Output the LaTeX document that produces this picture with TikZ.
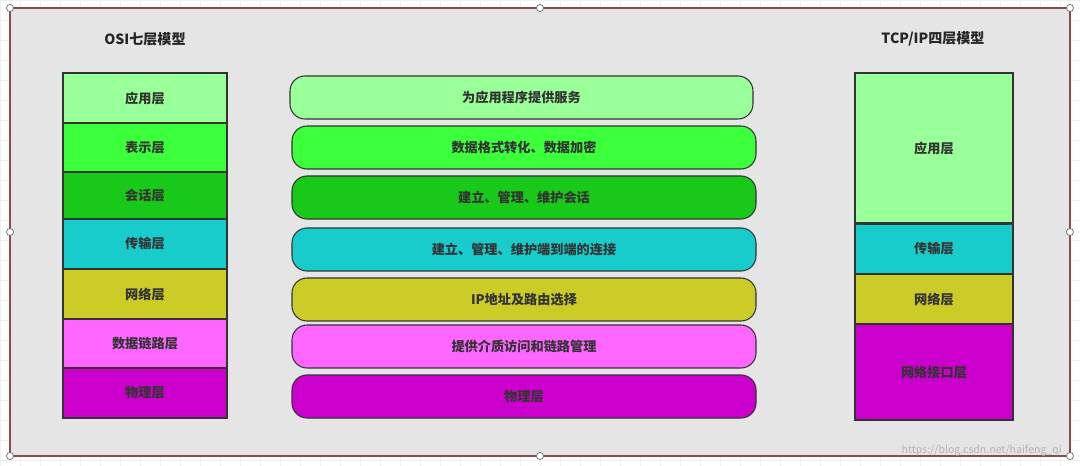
\documentclass[tikz,border=0pt]{standalone}
\usepackage{fontspec}
\setmainfont{Noto Sans CJK SC}
\definecolor{cA}{HTML}{99FF99}
\definecolor{cB}{HTML}{3CFF3C}
\definecolor{cC}{HTML}{19C919}
\definecolor{cD}{HTML}{19CCCC}
\definecolor{cE}{HTML}{CCCC29}
\definecolor{cF}{HTML}{FF66FF}
\definecolor{cG}{HTML}{CC00CC}
\definecolor{frame}{HTML}{8B4A4A}
\begin{document}
\begin{tikzpicture}[x=0.02cm,y=-0.02cm,
  lay/.style={draw=black!80,line width=0.6pt,font=\fontsize{7.5}{9}\selectfont\bfseries,text=black!80},
  pill/.style={lay,rounded corners=0.3cm},
  ttl/.style={font=\fontsize{8}{10}\selectfont\bfseries,text=black!85},
  hdl/.style={circle,draw=black!60,fill=white,inner sep=0pt,minimum size=4pt}]
\useasboundingbox (0,0) rectangle (1080,466);
\fill[white] (0,0) rectangle (1080,466);
\foreach \x in {0,20,...,1080} \draw[black!6,line width=0.3pt] (\x,0) -- (\x,466);
\foreach \y in {0,20,...,466} \draw[black!6,line width=0.3pt] (0,\y) -- (1080,\y);
\draw[frame,fill=black!10,line width=0.6pt] (10,8) rectangle (1070,456);
\node[ttl] (t1) at (145,39) {OSI七层模型};
\node[ttl] (t2) at (933,39) {TCP/IP四层模型};
% left
\foreach \n/\a/\b/\c/\t in {l1/73/123/cA/应用层,l2/123/172/cB/表示层,l3/172/219/cC/会话层,l4/219/269/cD/传输层,l5/269/319/cE/网络层,l6/319/368/cF/数据链路层,l7/368/418/cG/物理层}
  \draw[lay,fill=\c] (63,\a) rectangle node (\n) {\t} (227,\b);
% middle
\foreach \n/\x/\xx/\a/\b/\c/\t in {m1/290/753/76/119/cA/为应用程序提供服务,m2/292/756/126/169/cB/数据格式转化、数据加密,m3/292/756/176/219/cC/建立、管理、维护会话,m4/292/756/228/271/cD/建立、管理、维护端到端的连接,m5/292/756/278/321/cE/IP地址及路由选择,m6/292/756/325/368/cF/提供介质访问和链路管理,m7/292/756/375/418/cG/物理层}
  \draw[pill,fill=\c] (\x,\a) rectangle node (\n) {\t} (\xx,\b);
% right
\foreach \n/\a/\b/\c/\t in {r1/73/223/cA/应用层,r2/224/274/cD/传输层,r3/274/324/cE/网络层,r4/324/420/cG/网络接口层}
  \draw[lay,fill=\c] (855,\a) rectangle node (\n) {\t} (1013,\b);
\node[text=black!30,font=\fontsize{6}{7}\selectfont,anchor=east] (wm) at (1068,451) {https://blog.csdn.net/haifeng\_qi};
\foreach \p in {(10,8),(540,8),(1070,8),(10,232),(1070,232),(10,456),(540,456),(1070,456)}
  \node[hdl] at \p {};
\end{tikzpicture}
\end{document}
